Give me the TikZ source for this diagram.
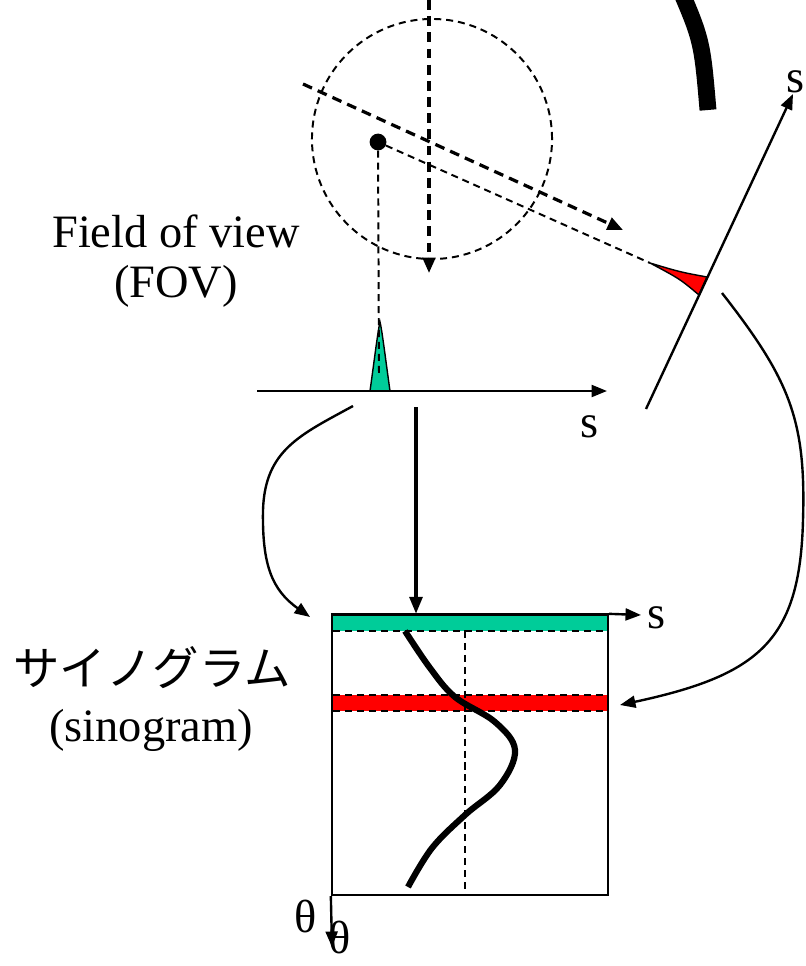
\documentclass[tikz,border=0pt]{standalone}
\usepackage{fontspec}
\setmainfont{Liberation Serif}
\newfontfamily\jpfont{Noto Sans CJK JP}
\usepackage{xcolor}
\usetikzlibrary{arrows.meta}
\definecolor{peakgreen}{RGB}{0, 204, 153}
\definecolor{peakred}{RGB}{255, 0, 0}

\begin{document}
\begin{tikzpicture}[
        x=0.025cm, y=-0.025cm,
        lbl/.style={font=\fontsize{33}{40}\selectfont, inner sep=0pt},
        axis/.style={line width=1.7pt, -{Triangle[length=11pt, width=8.5pt]}},
        bigarrow/.style={line width=2.6pt, -{Triangle[length=12pt, width=9pt]}},
        bent/.style={line width=1.7pt, -{Triangle[length=11pt, width=8.5pt]}},
        ray/.style={line width=2.3pt, dash pattern=on 7pt off 4.5pt},
        thinray/.style={line width=1.4pt, dash pattern=on 5pt off 3.5pt},
        peak/.style={draw=black, line width=1pt}
    ]
        \useasboundingbox (0,0) rectangle (805,966);
        \clip (0,0) rectangle (805,966);

        % field of view and source point
        \node[draw, circle, thinray, minimum size=6cm] (fov) at (432,139) {};
        \node[circle, fill=black, inner sep=0pt, minimum size=0.42cm] (src) at (378,142) {};
        \draw[line width=12pt] (676,-20) .. controls (702,40) .. (708,110);

        % projection directions
        \coordinate (vtop) at (429,0);
        \coordinate (vtip) at (429,273);
        \coordinate (otail) at (303,84);
        \coordinate (otip) at (623,230);
        \draw[ray, -{Triangle[length=11pt, width=9pt]}] (vtop) -- (vtip);
        \draw[ray, -{Triangle[length=11pt, width=9pt]}] (otail) -- (otip);

        % oblique detector
        \coordinate (oaxis0) at (646,409);
        \coordinate (oaxis1) at (793,94);
        \coordinate (redtip) at (650,263);
        \filldraw[peak, fill=peakred] (redtip) .. controls (680,272) .. (707,277)
            -- (699,295) .. controls (680,279) .. (redtip) -- cycle;
        \draw[thinray] (src) -- (redtip);
        \draw[axis] (oaxis0) -- (oaxis1);
        \node[lbl, anchor=base] (s1) at (796,92) {s};

        % horizontal detector
        \coordinate (haxis0) at (257,391);
        \coordinate (haxis1) at (607,391);
        \filldraw[peak, fill=peakgreen] (370,391) .. controls (375,355) and (378,330) .. (380,322)
            .. controls (382,330) and (385,355) .. (390,391) -- cycle;
        \draw[thinray] (src) -- (379,376);
        \draw[axis] (haxis0) -- (haxis1);
        \node[lbl, anchor=base] (s2) at (590,437) {s};

        \node[lbl, anchor=base] (fov1) at (176,247) {Field of view};
        \node[lbl, anchor=base] (fov2) at (176,297) {(FOV)};

        % sinogram
        \node[draw, line width=1.6pt, inner sep=0pt, minimum width=6.9cm, minimum height=7cm] (sino) at (470,755) {};
        \fill[peakgreen] (333,616) rectangle (607,631);
        \fill[peakred] (333,695) rectangle (607,711);
        \draw[thinray] (333,631) -- (607,631);
        \draw[thinray] (333,695) -- (607,695);
        \draw[thinray] (333,711) -- (607,711);
        \draw[thinray] (465,631) -- (465,894);
        \draw[line width=4.4pt] plot[smooth, tension=0.6] coordinates {(405,631) (430,668) (455,697)
            (495,722) (515,750) (500,785) (465,815) (432,848) (408,887)};
        \draw[line width=1.6pt] (sino.north west) -- (sino.north east);

        \coordinate (stip) at (641,615);
        \coordinate (ttip) at (332,947);
        \draw[axis] (sino.south west) -- (ttip);
        \draw[axis] (sino.north east) -- (stip);
        \node[lbl, anchor=base] (s3) at (657,628) {s};
        \node[lbl, anchor=base] (th1) at (306,932) {θ};
        \node[lbl, anchor=base] (th2) at (340,953) {θ};

        \node[font=\jpfont\fontsize{33}{40}\selectfont, inner sep=0pt] (jp) at (152,668) {サイノグラム};
        \node[lbl, anchor=base] (en) at (151,741) {(sinogram)};

        % projections into the sinogram
        \coordinate (ptop) at (416,407);
        \coordinate (lstart) at (353,406);
        \coordinate (ltip) at (310,617);
        \coordinate (rstart) at (722,293);
        \coordinate (rtip) at (620,705);
        \draw[bigarrow] (ptop) -- (ptop |- sino.north);
        \draw[bent] (lstart) .. controls (300,435) and (265,450) .. (263,510)
            .. controls (262,565) and (272,590) .. (ltip);
        \draw[bent] (rstart) .. controls (790,380) and (806,420) .. (803,520)
            .. controls (800,640) and (760,675) .. (rtip);
    \end{tikzpicture}
\end{document}
